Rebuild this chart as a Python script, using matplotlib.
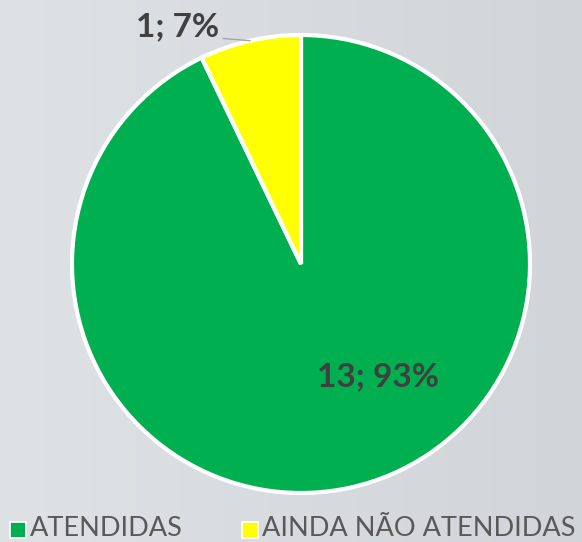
import numpy as np
import matplotlib
matplotlib.use("Agg")
import matplotlib.pyplot as plt
from matplotlib.patches import Rectangle
from matplotlib.lines import Line2D

categories = ["ATENDIDAS", "AINDA NÃO ATENDIDAS"]
values = [13, 1]
colors = ["#00b050", "#ffff00"]

W, H = 582, 542
fig = plt.figure(figsize=(W / 100, H / 100), dpi=100)

# gradient background
bg = fig.add_axes([0, 0, 1, 1])
grad = np.linspace(0, 1, 256)[None, :]
c0 = np.array([0xde, 0xe2, 0xe5]) / 255
c1 = np.array([0xd1, 0xd5, 0xd9]) / 255
img = c0[None, None, :] * (1 - grad[..., None]) + c1[None, None, :] * grad[..., None]
bg.imshow(img, aspect="auto", extent=[0, 1, 0, 1])
bg.axis("off")

cx, cy, r = 301, 264, 229
ax = fig.add_axes([(cx - r) / W, (H - cy - r) / H, 2 * r / W, 2 * r / H])
wedges, _ = ax.pie(values, colors=colors, startangle=90, counterclock=False,
                   wedgeprops=dict(edgecolor="white", linewidth=3, clip_on=False))
ax.set_xlim(-1.0, 1.0)
ax.set_ylim(-1.0, 1.0)
ax.set_aspect("equal")
ax.axis("off")

total = sum(values)
lab = [f"{v}; {round(v / total * 100)}%" for v in values]
fam = ["Lato", "DejaVu Sans"]
ax.text(0.336, -0.493, lab[0], ha="center", va="center", fontsize=24,
        fontweight="bold", color="#404040", family=fam)
ax.text(-0.541, 1.035, lab[1], ha="center", va="center", fontsize=24,
        fontweight="bold", color="#404040", family=fam, clip_on=False)
ax.add_line(Line2D([-0.34, -0.223], [0.985, 0.975], color="#a6a6a6",
                   linewidth=1, clip_on=False))

# legend
def px(x, y):
    return x / W, 1 - y / H

items = [(10, categories[0], colors[0]), (242, categories[1], colors[1])]
for x0, name, col in items:
    fx, fy = px(x0, 538)
    fig.patches.append(Rectangle((fx, fy), 16 / W, 16 / H, transform=fig.transFigure,
                                 facecolor=col, edgecolor="white", linewidth=1.2))
    tx, ty = px(x0 + 20, 529)
    fig.text(tx, ty, name, ha="left", va="center", fontsize=19.5,
             color="#595959", family=fam)

fig.savefig("out.png", dpi=100)
